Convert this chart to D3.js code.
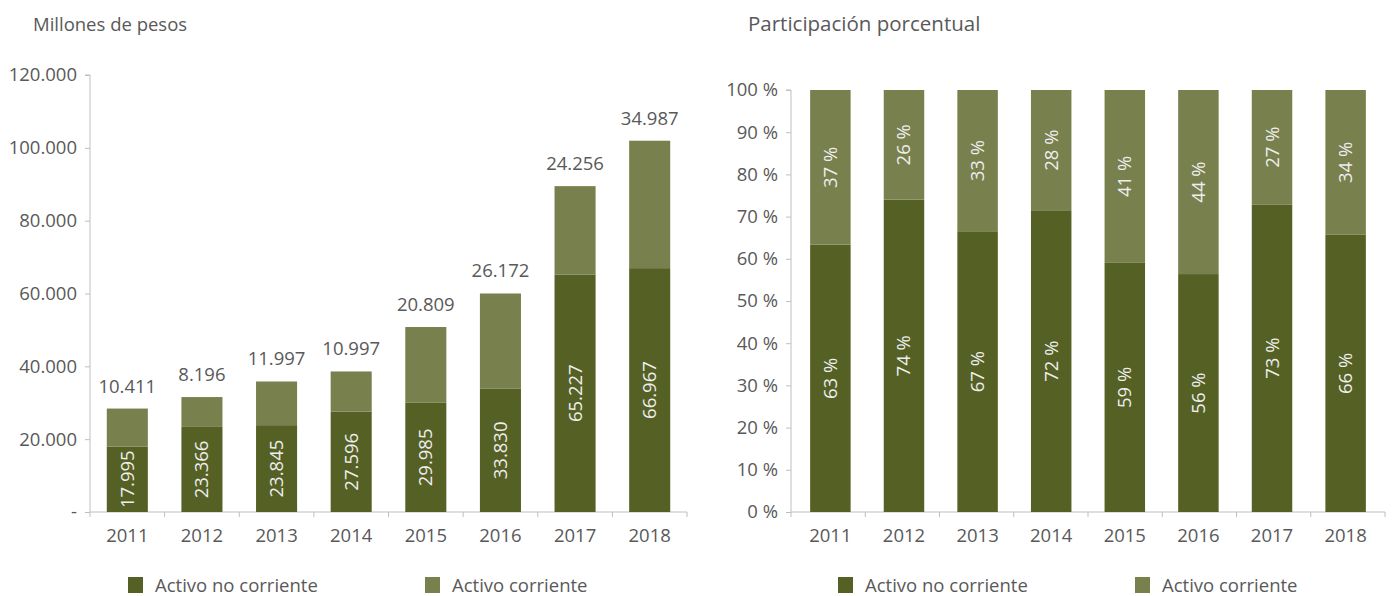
<!DOCTYPE html>
<html>
<head>
<meta charset="utf-8">
<script src="https://cdnjs.cloudflare.com/ajax/libs/d3/7.8.5/d3.min.js"></script>
<style>
  body { margin: 0; background: #fff; }
  svg text { font-family: "Open Sans", sans-serif; }
  .axis path, .axis line { stroke: #bfbfbf; }
  .axis text { fill: #595959; font-size: 18.5px; }
</style>
</head>
<body>
<div id="chart"></div>
<script>
var years = ["2011", "2012", "2013", "2014", "2015", "2016", "2017", "2018"]
var noCorriente = [17995, 23366, 23845, 27596, 29985, 33830, 65227, 66967]
var corriente = [10411, 8196, 11997, 10997, 20809, 26172, 24256, 34987]
var valueTicks = [0, 20000, 40000, 60000, 80000, 100000, 120000]
var pctTicks = [0, 0.1, 0.2, 0.3, 0.4, 0.5, 0.6, 0.7, 0.8, 0.9, 1]
var seriesNames = ["Activo no corriente", "Activo corriente"]

var colors = { dark: "#556024", light: "#78804d", text: "#595959", inner: "#eeeeee" }

var locale = d3.formatLocale({ decimal: ",", thousands: ".", grouping: [3], currency: ["$", ""] })
var fmt = locale.format(",d")

var svg = d3.select("#chart").append("svg")
  .attr("width", 1394)
  .attr("height", 596)

var rows = years.map(function(y, i) {
  var total = noCorriente[i] + corriente[i]
  return {
    year: y,
    nc: noCorriente[i],
    c: corriente[i],
    total: total,
    pnc: noCorriente[i] / total,
    pc: corriente[i] / total
  }
})

function drawPanel(opts) {
  var g = svg.append("g")
  var x = d3.scaleBand().domain(years).range([opts.left, opts.right]).paddingInner(0.45).paddingOuter(opts.outer)
  var y = d3.scaleLinear().domain(opts.domain).range([512, opts.top])

  // axes
  var yAxis = d3.axisLeft(y).tickValues(opts.ticks).tickSize(5).tickPadding(8).tickFormat(opts.tickFormat)
  g.append("g").attr("class", "axis")
    .attr("transform", "translate(" + opts.left + ",0)")
    .call(yAxis)
    .call(function(s) { s.select(".domain").attr("d", "M-5," + y(opts.domain[1]) + "H0V512") })

  var xBoundary = d3.scaleLinear().domain([0, years.length]).range([opts.left, opts.right])
  var xa = g.append("g").attr("class", "axis")
  xa.append("line").attr("x1", opts.left).attr("x2", opts.right).attr("y1", 512).attr("y2", 512)
  xa.selectAll(".tk").data(d3.range(years.length + 1)).enter().append("line")
    .attr("x1", function(d) { return xBoundary(d) }).attr("x2", function(d) { return xBoundary(d) })
    .attr("y1", 512).attr("y2", 517)
  xa.selectAll(".lbl").data(years).enter().append("text")
    .attr("x", function(d) { return x(d) + x.bandwidth() / 2 })
    .attr("y", 542)
    .attr("text-anchor", "middle")
    .text(function(d) { return d })

  // bars
  var bw = x.bandwidth()
  rows.forEach(function(r) {
    var bx = x(r.year)
    var vNc = opts.getNc(r), vC = opts.getC(r)
    g.append("rect").attr("x", bx).attr("width", bw)
      .attr("y", y(vNc)).attr("height", y(0) - y(vNc))
      .attr("fill", colors.dark)
    g.append("rect").attr("x", bx).attr("width", bw)
      .attr("y", y(vNc + vC)).attr("height", y(vNc) - y(vNc + vC))
      .attr("fill", colors.light)

    var cx = bx + bw / 2
    var cyNc = (y(0) + y(vNc)) / 2
    g.append("text")
      .attr("transform", "translate(" + (cx + 6.5) + "," + cyNc + ") rotate(-90)")
      .attr("text-anchor", "middle")
      .attr("fill", colors.inner)
      .style("font-size", "18.5px")
      .text(opts.ncLabel(r))

    if (opts.cInside) {
      var cyC = (y(vNc) + y(vNc + vC)) / 2
      g.append("text")
        .attr("transform", "translate(" + (cx + 6.5) + "," + cyC + ") rotate(-90)")
        .attr("text-anchor", "middle")
        .attr("fill", colors.inner)
        .style("font-size", "18.5px")
        .text(opts.cLabel(r))
    } else {
      g.append("text")
        .attr("x", cx)
        .attr("y", y(vNc + vC) - 16)
        .attr("text-anchor", "middle")
        .attr("fill", colors.text)
        .style("font-size", "18.5px")
        .text(opts.cLabel(r))
    }
  })

  // title
  g.append("text").attr("x", opts.titleX).attr("y", 31)
    .attr("fill", colors.text).style("font-size", opts.titleSize)
    .text(opts.title)

  // legend
  var lg = g.append("g")
  var legendColors = [colors.dark, colors.light]
  seriesNames.forEach(function(name, i) {
    var lx = opts.legendX[i]
    lg.append("rect").attr("x", lx).attr("y", 577).attr("width", 15).attr("height", 16).attr("fill", legendColors[i])
    lg.append("text").attr("x", lx + 27).attr("y", 592)
      .attr("fill", colors.text).style("font-size", "18.5px").text(name)
  })
}

drawPanel({
  left: 90, right: 687, top: 75, outer: 0.225,
  domain: [0, 120000], ticks: valueTicks,
  tickFormat: function(d) { return d === 0 ? "-" : fmt(d) },
  getNc: function(r) { return r.nc }, getC: function(r) { return r.c },
  ncLabel: function(r) { return fmt(r.nc) }, cLabel: function(r) { return fmt(r.c) },
  cInside: false,
  title: "Millones de pesos", titleX: 33, titleSize: "18.5px",
  legendX: [128, 425]
})

drawPanel({
  left: 791, right: 1385, top: 90, outer: 0.26,
  domain: [0, 1], ticks: pctTicks,
  tickFormat: function(d) { return Math.round(d * 100) + " %" },
  getNc: function(r) { return r.pnc }, getC: function(r) { return r.pc },
  ncLabel: function(r) { return Math.round(r.pnc * 100) + " %" }, cLabel: function(r) { return Math.round(r.pc * 100) + " %" },
  cInside: true,
  title: "Participación porcentual", titleX: 748, titleSize: "20.5px",
  legendX: [838, 1135]
})
</script>
</body>
</html>
